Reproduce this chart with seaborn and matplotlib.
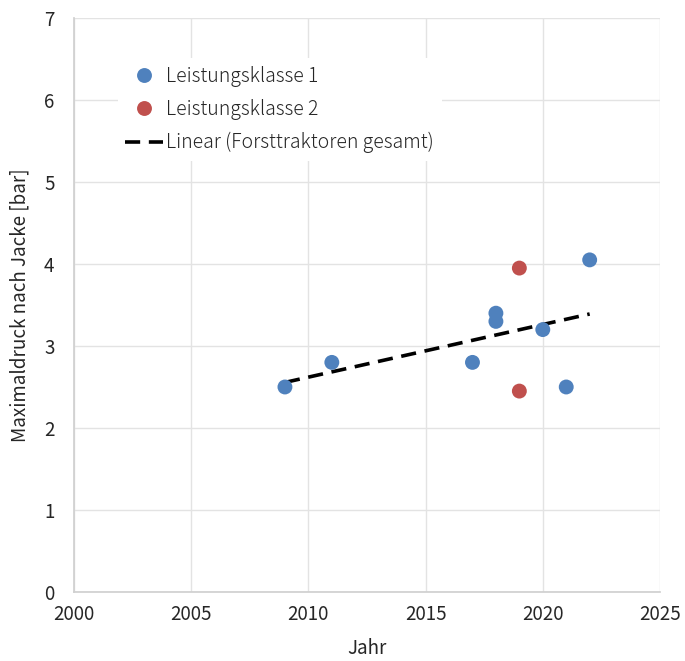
import numpy as np
import pandas as pd
import matplotlib
matplotlib.use('Agg')
import matplotlib.pyplot as plt
import seaborn as sns

# Leistungsklasse 1
jahr_lk1 = [2009, 2011, 2017, 2018, 2018, 2020, 2021, 2022]
druck_lk1 = [2.5, 2.8, 2.8, 3.4, 3.3, 3.2, 2.5, 4.05]
# Leistungsklasse 2
jahr_lk2 = [2019, 2019]
druck_lk2 = [3.95, 2.45]

x_ticks = [2000, 2005, 2010, 2015, 2020, 2025]
y_ticks = [0, 1, 2, 3, 4, 5, 6, 7]

sns.set_theme(style="white")
plt.rcParams['font.family'] = ['Noto Sans CJK JP', 'DejaVu Sans']

df = pd.DataFrame({
    'Jahr': jahr_lk1 + jahr_lk2,
    'Druck': druck_lk1 + druck_lk2,
    'Klasse': ['Leistungsklasse 1'] * len(jahr_lk1) + ['Leistungsklasse 2'] * len(jahr_lk2),
})

fig = plt.figure(figsize=(6.85, 6.61), dpi=100)
ax = fig.add_axes([0.108, 0.1044, 0.8555, 0.8684])

# linear trend over all tractors
k, d = np.polyfit(df['Jahr'], df['Druck'], 1)
xs = np.array([df['Jahr'].min(), df['Jahr'].max()])
ax.plot(xs, k * xs + d, color='black', lw=2.6, ls=(0, (4.2, 2.4)),
        label='Linear (Forsttraktoren gesamt)', zorder=2)

sns.scatterplot(data=df, x='Jahr', y='Druck', hue='Klasse',
                palette={'Leistungsklasse 1': '#4F81BD', 'Leistungsklasse 2': '#C0504D'},
                s=115, edgecolor='none', ax=ax, zorder=3)

ax.set_xlim(2000, 2025)
ax.set_ylim(0, 7)
ax.set_xticks(x_ticks)
ax.set_yticks(y_ticks)
ax.grid(True, color='#e3e3e3', lw=1)
for side in ['top', 'right']:
    ax.spines[side].set_visible(False)
for side in ['left', 'bottom']:
    ax.spines[side].set_color('#d0d0d0')
ax.tick_params(axis='both', labelsize=13.5, colors='#262626', length=0)
ax.tick_params(axis='y', pad=14)
ax.tick_params(axis='x', pad=9)
ax.set_xlabel('Jahr', fontsize=13.5, color='#262626', labelpad=9)
ax.set_ylabel('Maximaldruck nach Jacke [bar]', fontsize=13.5, color='#262626', labelpad=10)

handles, labels = ax.get_legend_handles_labels()
order = [labels.index('Leistungsklasse 1'), labels.index('Leistungsklasse 2'),
         labels.index('Linear (Forsttraktoren gesamt)')]
leg = ax.legend([handles[i] for i in order], [labels[i] for i in order],
                loc='upper left', bbox_to_anchor=(0.058, 0.947),
                prop={'size': 14, 'weight': 'light'},
                frameon=True, facecolor='white', edgecolor='none', framealpha=1,
                handlelength=1.95, handletextpad=0.15, labelspacing=0.62,
                borderpad=0.4, markerscale=1.0)
leg.set_zorder(5)

fig.savefig('out.png', dpi=100)
